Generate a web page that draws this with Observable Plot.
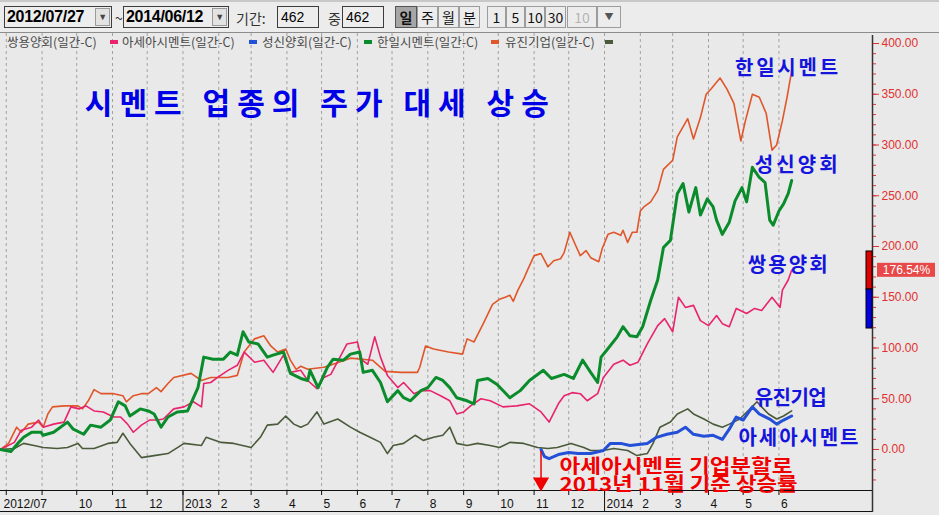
<!DOCTYPE html>
<html>
<head>
<meta charset="utf-8">
<script src="https://cdn.jsdelivr.net/npm/d3@7"></script>
<script src="https://cdn.jsdelivr.net/npm/@observablehq/plot@0.6"></script>
<style>
  body { margin: 0; background: #e6e6e6; font-family: "Liberation Sans", Arial, sans-serif; }
  #wrap { position: relative; width: 939px; height: 515px; overflow: hidden; background: #e6e6e6; }
  #toolbar { position: absolute; left: 0; top: 0; width: 939px; height: 33px; background: #ececec; border-top: 2px solid #c8c8c8; border-bottom: 1px solid #8c8c8c; box-sizing: border-box; }
  .box { position: absolute; top: 4px; height: 22px; border: 1px solid #3c3c3c; background: #ededed; box-sizing: border-box; color: #000; font-size: 14px; line-height: 20px; padding-left: 3px; }
  .date { font-weight: bold; font-size: 16px; letter-spacing: -0.3px; padding-left: 2px; }
  .drop { position: absolute; right: 1px; top: 1px; width: 15px; height: 18px; border: 1px solid #9a9a9a; background: #e2e2e2; box-sizing: border-box; font-size: 9px; line-height: 16px; text-align: center; color: #444; font-weight: normal; }
  .lbl { position: absolute; top: 7px; font-size: 14px; color: #333; font-family: "Noto Sans CJK KR", sans-serif; line-height: 18px; }
  .btn { position: absolute; top: 4px; height: 22px; border: 1px solid #9c9c9c; background: #ececec; box-sizing: border-box; text-align: center; font-size: 14px; line-height: 20px; color: #111; font-family: "Noto Sans CJK KR", "Liberation Sans", sans-serif; }
  .btn.on { background: #a6a6a6; border-color: #555; font-weight: bold; }
  .btn.off { color: #b4b4b4; }
  #legend { position: absolute; left: 0; top: 34px; height: 15px; font-family: "Noto Sans CJK KR", sans-serif; font-size: 12.5px; color: #4a4a4a; line-height: 15px; }
  #legend span { position: absolute; top: 0; white-space: nowrap; }
  #legend i { position: absolute; top: 6px; width: 8px; height: 4px; }
  #chart { position: absolute; left: 0; top: 33px; }
</style>
</head>
<body>
<div id="wrap">
  <div id="chart"></div>
  <div id="toolbar">
    <div class="box date" style="left:4px;width:108px;">2012/07/27<div class="drop">▼</div></div>
    <div class="lbl" style="left:115px;">~</div>
    <div class="box date" style="left:123px;width:106px;">2014/06/12<div class="drop">▼</div></div>
    <div class="lbl" style="left:236px;">기간:</div>
    <div class="box" style="left:277px;width:42px;">462</div>
    <div class="lbl" style="left:328px;">중</div>
    <div class="box" style="left:342px;width:42px;">462</div>
    <div class="btn on" style="left:395px;width:22px;">일</div>
    <div class="btn" style="left:417px;width:21px;">주</div>
    <div class="btn" style="left:438px;width:21px;">월</div>
    <div class="btn" style="left:459px;width:21px;">분</div>
    <div class="btn" style="left:487px;width:19px;">1</div>
    <div class="btn" style="left:506px;width:19px;">5</div>
    <div class="btn" style="left:525px;width:20px;">10</div>
    <div class="btn" style="left:545px;width:21px;">30</div>
    <div class="btn off" style="left:567px;width:30px;">10</div>
    <div class="btn off" style="left:597px;width:24px;font-size:9px;color:#555;">▼</div>
  </div>
  <div id="legend"></div>
</div>
<script>
// 수익률(%) : 2012/07/27 기준, 아세아시멘트는 2013/11 기업분할 이후 기준
const ssangyong = [
  ["2012-07-27",0],["2012-08-08",7],["2012-08-14",19],["2012-08-23",22],["2012-08-29",29],["2012-09-02",22],
  ["2012-09-11",25],["2012-09-20",27],["2012-09-26",42],["2012-10-03",40],["2012-10-09",43],["2012-10-16",38],
  ["2012-10-24",37],["2012-11-02",32],["2012-11-08",32],["2012-11-14",25],["2012-11-19",17],["2012-11-26",24],
  ["2012-12-03",29],["2012-12-10",29],["2012-12-15",30],["2012-12-24",40],["2013-01-02",42],["2013-01-10",47],
  ["2013-01-17",42],["2013-01-19",65],["2013-01-25",66],["2013-01-31",71],["2013-02-09",78],["2013-02-17",83],
  ["2013-02-23",96],["2013-03-04",86],["2013-03-12",88],["2013-03-20",76],["2013-03-29",93],["2013-04-04",76],
  ["2013-04-13",78],["2013-04-19",68],["2013-04-27",60],["2013-05-03",71],["2013-05-09",74],["2013-05-23",104],
  ["2013-06-01",106],["2013-06-05",88],["2013-06-10",84],["2013-06-16",111],["2013-06-21",91],["2013-06-27",73],
  ["2013-07-06",61],["2013-07-11",66],["2013-07-20",55],["2013-07-26",58],["2013-08-03",58],["2013-08-12",53],
  ["2013-08-20",48],["2013-08-26",35],["2013-09-01",37],["2013-09-07",43],["2013-09-16",50],["2013-09-24",48],
  ["2013-10-05",42],["2013-10-17",43],["2013-10-28",45],["2013-11-07",37],["2013-11-14",27],["2013-11-22",45],
  ["2013-11-27",53],["2013-12-04",56],["2013-12-11",55],["2013-12-17",48],["2013-12-26",55],["2013-12-31",71],
  ["2014-01-09",84],["2014-01-17",88],["2014-01-23",83],["2014-01-30",86],["2014-02-07",104],["2014-02-16",122],
  ["2014-02-22",129],["2014-03-01",116],["2014-03-06",150],["2014-03-12",140],["2014-03-19",142],["2014-03-25",127],
  ["2014-04-01",122],["2014-04-08",132],["2014-04-13",124],["2014-04-19",121],["2014-04-25",139],["2014-05-04",134],
  ["2014-05-11",139],["2014-05-17",137],["2014-05-26",150],["2014-06-02",140],["2014-06-04",157],["2014-06-09",167],
  ["2014-06-12",176.54]
];
const asia = [
  ["2013-11-07",0],["2013-11-10",-7],["2013-11-14",-9],["2013-11-22",-5],["2013-12-01",-3],["2013-12-09",-4],
  ["2013-12-20",-4],["2013-12-31",-1],["2014-01-06",6],["2014-01-15",6],["2014-01-23",4],["2014-02-07",6],
  ["2014-02-15",12],["2014-02-24",15],["2014-03-05",17],["2014-03-12",22],["2014-03-19",15],["2014-03-28",13],
  ["2014-04-05",14],["2014-04-13",10],["2014-04-19",20],["2014-04-25",32],["2014-05-01",29],["2014-05-09",42],
  ["2014-05-15",35],["2014-05-24",30],["2014-05-30",25],["2014-06-05",29],["2014-06-12",33]
];
const sungshin = [
  ["2012-07-27",0],["2012-08-05",-2],["2012-08-11",6],["2012-08-16",12],["2012-08-23",17],["2012-08-31",17],
  ["2012-09-02",14],["2012-09-11",17],["2012-09-23",27],["2012-09-28",20],["2012-10-07",15],["2012-10-13",24],
  ["2012-10-22",22],["2012-10-30",29],["2012-11-06",47],["2012-11-12",43],["2012-11-16",33],["2012-11-25",40],
  ["2012-12-02",38],["2012-12-07",35],["2012-12-13",22],["2012-12-19",32],["2012-12-27",37],["2013-01-05",38],
  ["2013-01-14",61],["2013-01-19",91],["2013-01-27",89],["2013-02-05",89],["2013-02-11",96],["2013-02-17",93],
  ["2013-02-22",116],["2013-02-27",106],["2013-03-07",104],["2013-03-15",91],["2013-03-20",93],["2013-03-29",96],
  ["2013-04-04",75],["2013-04-13",70],["2013-04-19",68],["2013-04-21",78],["2013-04-28",61],["2013-05-06",81],
  ["2013-05-11",89],["2013-05-20",88],["2013-05-26",94],["2013-06-03",96],["2013-06-06",76],["2013-06-14",78],
  ["2013-06-21",66],["2013-06-27",47],["2013-07-06",58],["2013-07-11",51],["2013-07-17",48],["2013-07-26",58],
  ["2013-08-01",61],["2013-08-08",71],["2013-08-14",68],["2013-08-20",61],["2013-08-26",51],["2013-09-04",48],
  ["2013-09-10",45],["2013-09-13",68],["2013-09-22",70],["2013-09-30",64],["2013-10-11",51],["2013-10-20",58],
  ["2013-10-28",68],["2013-11-09",78],["2013-11-16",70],["2013-11-27",74],["2013-12-05",70],["2013-12-13",88],
  ["2013-12-20",76],["2013-12-26",66],["2013-12-29",91],["2014-01-03",98],["2014-01-12",111],["2014-01-17",121],
  ["2014-01-23",112],["2014-01-29",111],["2014-02-03",121],["2014-02-10",147],["2014-02-16",167],["2014-02-21",199],
  ["2014-02-27",206],["2014-03-05",252],["2014-03-10",262],["2014-03-15",234],["2014-03-21",258],["2014-03-25",231],
  ["2014-03-31",247],["2014-04-05",239],["2014-04-08",226],["2014-04-13",212],["2014-04-19",224],["2014-04-24",245],
  ["2014-04-30",258],["2014-05-04",244],["2014-05-09",278],["2014-05-15",268],["2014-05-20",263],["2014-05-24",226],
  ["2014-05-27",221],["2014-06-01",235],["2014-06-05",242],["2014-06-09",252],["2014-06-12",265]
];
const hanil = [
  ["2012-07-27",0],["2012-08-03",6],["2012-08-10",22],["2012-08-14",17],["2012-08-20",25],["2012-08-29",27],
  ["2012-09-02",22],["2012-09-06",35],["2012-09-10",42],["2012-09-20",43],["2012-10-02",43],["2012-10-06",40],
  ["2012-10-11",48],["2012-10-16",59],["2012-10-22",55],["2012-11-02",55],["2012-11-10",53],["2012-11-13",47],
  ["2012-11-19",53],["2012-11-26",55],["2012-12-02",55],["2012-12-09",61],["2012-12-13",57],["2012-12-19",65],
  ["2012-12-24",71],["2013-01-08",75],["2013-01-17",68],["2013-01-25",71],["2013-02-09",71],["2013-02-17",73],
  ["2013-02-23",96],["2013-03-04",109],["2013-03-12",112],["2013-03-18",102],["2013-03-24",96],["2013-03-31",99],
  ["2013-04-04",88],["2013-04-09",79],["2013-04-13",82],["2013-04-19",79],["2013-05-03",81],["2013-05-11",84],
  ["2013-05-26",90],["2013-06-14",88],["2013-06-25",77],["2013-07-09",76],["2013-07-23",76],["2013-07-25",81],
  ["2013-07-30",102],["2013-08-06",99],["2013-08-19",96],["2013-08-31",94],["2013-09-04",109],["2013-09-10",106],
  ["2013-09-18",124],["2013-09-26",143],["2013-10-02",148],["2013-10-07",150],["2013-10-11",152],["2013-10-14",146],
  ["2013-10-18",157],["2013-10-23",168],["2013-10-26",176],["2013-11-01",191],["2013-11-07",193],["2013-11-13",180],
  ["2013-11-18",186],["2013-11-24",188],["2013-11-27",194],["2013-12-02",214],["2013-12-07",201],["2013-12-11",191],
  ["2013-12-16",196],["2013-12-20",189],["2013-12-27",185],["2013-12-30",198],["2014-01-04",212],["2014-01-09",214],
  ["2014-01-15",211],["2014-01-17",216],["2014-01-21",204],["2014-01-25",214],["2014-01-29",214],["2014-02-01",235],
  ["2014-02-04",239],["2014-02-10",244],["2014-02-16",255],["2014-02-21",276],["2014-03-01",285],["2014-03-05",308],
  ["2014-03-14",326],["2014-03-19",306],["2014-03-25",327],["2014-03-30",350],["2014-04-03",355],["2014-04-11",366],
  ["2014-04-17",355],["2014-04-23",341],["2014-04-29",304],["2014-05-03",324],["2014-05-09",350],["2014-05-15",347],
  ["2014-05-21",331],["2014-05-26",295],["2014-05-30",300],["2014-06-04",324],["2014-06-08",347],["2014-06-12",373]
];
const eugene = [
  ["2012-07-27",0],["2012-08-08",1],["2012-08-16",6],["2012-08-25",4],["2012-09-02",2],["2012-09-14",1],
  ["2012-09-23",2],["2012-10-02",6],["2012-10-06",1],["2012-10-16",1],["2012-10-28",6],["2012-11-05",7],
  ["2012-11-10",16],["2012-11-16",6],["2012-11-26",-8],["2012-12-07",-6],["2012-12-19",-4],["2013-01-02",6],
  ["2013-01-17",4],["2013-01-21",12],["2013-02-03",7],["2013-02-14",6],["2013-03-01",2],["2013-03-09",12],
  ["2013-03-15",24],["2013-03-24",25],["2013-03-31",33],["2013-04-07",25],["2013-04-13",22],["2013-04-19",25],
  ["2013-04-27",37],["2013-05-03",25],["2013-05-15",30],["2013-05-26",22],["2013-06-03",17],["2013-06-12",12],
  ["2013-06-21",7],["2013-06-27",-4],["2013-07-02",4],["2013-07-11",6],["2013-07-21",14],["2013-07-28",9],
  ["2013-08-06",12],["2013-08-14",14],["2013-08-20",22],["2013-08-26",6],["2013-09-04",4],["2013-09-13",6],
  ["2013-09-24",4],["2013-10-02",2],["2013-10-11",7],["2013-10-23",6],["2013-11-04",2],["2013-11-13",1],
  ["2013-11-21",2],["2013-12-03",6],["2013-12-14",2],["2013-12-20",-1],["2013-12-31",-1],["2014-01-09",1],
  ["2014-01-21",-1],["2014-01-29",-6],["2014-02-07",-4],["2014-02-12",6],["2014-02-18",22],["2014-02-27",27],
  ["2014-03-05",35],["2014-03-14",40],["2014-03-19",35],["2014-03-28",30],["2014-04-05",25],["2014-04-13",22],
  ["2014-04-19",25],["2014-04-28",30],["2014-05-07",40],["2014-05-13",47],["2014-05-17",42],["2014-05-23",35],
  ["2014-05-30",30],["2014-06-05",33],["2014-06-12",38]
];

const names = ["쌍용양회", "아세아시멘트", "성신양회", "한일시멘트", "유진기업"];
const colors = ["#e8246c", "#2450d8", "#0b8c2c", "#e0562a", "#4a5a3a"];

const monthStarts = [
  "2012-08-01","2012-09-01","2012-10-01","2012-11-01","2012-12-01",
  "2013-01-01","2013-02-01","2013-03-01","2013-04-01","2013-05-01","2013-06-01",
  "2013-07-01","2013-08-01","2013-09-01","2013-10-01","2013-11-01","2013-12-01",
  "2014-01-01","2014-02-01","2014-03-01","2014-04-01","2014-05-01","2014-06-01"
];
const monthLabels = ["", "", "10", "11", "12", "2013", "2", "3", "4", "5", "6", "7", "8", "9", "10", "11", "12",
  "2014", "2", "3", "4", "5", "6"];
const yearStarts = ["2013-01-01", "2014-01-01"];
const yMajor = [0, 50, 100, 150, 200, 250, 300, 350, 400];
const yMinor = d3.range(-30, 401, 10);
const barUp = [157.6, 195.1];
const barDown = [119.2, 157.6];

const title = "시멘트 업종의 주가 대세 상승";
const seriesNotes = [
  {text: "한일시멘트", date: "2014-04-24", value: 375, width: 103},
  {text: "성신양회", date: "2014-05-11", value: 280, width: 83},
  {text: "쌍용양회", date: "2014-05-05", value: 181, width: 80},
  {text: "유진기업", date: "2014-05-11", value: 50, width: 72},
  {text: "아세아시멘트", date: "2014-04-27", value: 11, width: 120}
];
const splitLines = ["아세아시멘트 기업분할로", "2013년 11월 기준 상승률"];
const splitWidths = [233, 238];
const splitDate = "2013-11-07";

const D = s => new Date(s);
const xStart = D("2012-07-27"), xEnd = D("2014-08-21");
const yMin = -40.4, yMax = 407.9;
const red = "#e23030";
const lastPink = ssangyong[ssangyong.length - 1][1];

// legend
const legendPos = [[7, 110], [122, 249], [262, 364], [377, 491], [505, 605]];
const legend = d3.select("#legend");
names.forEach((n, i) => {
  legend.append("span").style("left", legendPos[i][0] + "px").text(n + "(일간-C)");
  legend.append("i").style("left", legendPos[i][1] + "px").style("background", colors[i]);
});

const line = (data, i, w) => Plot.line(data, {x: d => D(d[0]), y: d => d[1], stroke: colors[i], strokeWidth: w});
const korean = "'Noto Sans CJK KR', sans-serif";

const chart = Plot.plot({
  width: 939,
  height: 482,
  marginTop: 2,
  marginRight: 67,
  marginBottom: 25,
  marginLeft: 0,
  style: {background: "#e9e9e9", fontFamily: "'Liberation Sans', Arial, sans-serif", fontSize: "12px", overflow: "visible"},
  x: {type: "utc", domain: [xStart, xEnd]},
  y: {domain: [yMin, yMax]},
  marks: [
    Plot.ruleX(monthStarts, {x: D, stroke: "#a2a2a2", strokeDasharray: "3,3", insetTop: -2}),
    line(eugene, 4, 1.6),
    line(hanil, 3, 1.6),
    line(ssangyong, 0, 1.6),
    line(sungshin, 2, 3),
    line(asia, 1, 3),
    // x axis band
    Plot.ruleY([yMin], {stroke: "#111"}),
    Plot.ruleY([yMin], {stroke: "#111", dy: 21}),
    Plot.axisX({ticks: monthStarts.map(D), tickSize: 5, tickFormat: () => "", color: "#111", label: null}),
    Plot.axisX({ticks: yearStarts.map(D), tickSize: 21, tickFormat: () => "", color: "#111", label: null}),
    Plot.text(monthStarts, {x: D, text: (d, i) => monthLabels[i], frameAnchor: "bottom", lineAnchor: "top",
      textAnchor: "start", dx: 2, dy: 9, fill: "#111", fontSize: 12}),
    Plot.text(["2012/07"], {x: () => xStart, text: d => d, frameAnchor: "bottom", lineAnchor: "top",
      textAnchor: "start", dx: 3, dy: 9, fill: "#111", fontSize: 12}),
    // right axis
    Plot.ruleX([xEnd], {stroke: "#333", strokeWidth: 1.5, insetBottom: -22}),
    Plot.axisY({anchor: "right", ticks: yMinor, tickSize: 3, tickFormat: () => "", color: red, label: null}),
    Plot.axisY({anchor: "right", ticks: yMajor, tickSize: 6, tickPadding: 3, tickFormat: d => d.toFixed(2),
      color: red, fontSize: 12, label: null}),
    Plot.rect([barUp], {x1: () => xEnd, x2: () => xEnd, y1: d => d[0], y2: d => d[1], insetLeft: -6,
      fill: "#e00000", stroke: "#000", strokeWidth: 1}),
    Plot.rect([barDown], {x1: () => xEnd, x2: () => xEnd, y1: d => d[0], y2: d => d[1], insetLeft: -6,
      fill: "#0000e0", stroke: "#000", strokeWidth: 1}),
    Plot.rect([lastPink], {x1: () => xEnd, x2: () => xEnd, y1: d => d, y2: d => d,
      insetLeft: 5, insetRight: -63, insetTop: -7, insetBottom: -7, fill: "#e84848"}),
    Plot.text([lastPink], {x: () => xEnd, y: d => d, text: d => d.toFixed(2) + "%", dx: 34, fill: "#fff", fontSize: 12}),
    // annotations
    Plot.text([title], {x: () => D("2012-10-08"), y: () => 340, text: d => d, textAnchor: "start",
      fontSize: 30, fontWeight: "bold", fill: "#0000e6", fontFamily: korean}),
    Plot.text(seriesNotes, {x: d => D(d.date), y: "value", text: "text", textAnchor: "start", fontSize: 20,
      fontWeight: "bold", fill: "#1414dc", fontFamily: korean}),
    Plot.ruleX([splitDate], {x: D, y1: -2, y2: -29, stroke: "#f00000", strokeWidth: 1.5}),
    Plot.dot([splitDate], {x: D, y: () => -32.2, symbol: "triangle", rotate: 180, r: 6, fill: "#f00000", stroke: "none"}),
    Plot.text([splitLines.join("\n")], {x: () => D("2013-11-23"), y: () => -26.4, text: d => d, textAnchor: "start",
      lineAnchor: "middle", lineHeight: 0.95, fontSize: 19, fontWeight: "bold", fill: "#f00000", fontFamily: korean})
  ]
});

// stretch the annotation texts to the widths they have in the original picture
const widths = new Map([[title, 464], ...seriesNotes.map(d => [d.text, d.width])]);
d3.select(chart).selectAll("text").each(function() {
  const w = widths.get(this.textContent);
  if (w) d3.select(this).attr("textLength", w).attr("lengthAdjust", "spacing");
});
d3.select(chart).selectAll("tspan").each(function() {
  const i = splitLines.indexOf(this.textContent);
  if (i >= 0) d3.select(this).attr("textLength", splitWidths[i]).attr("lengthAdjust", "spacingAndGlyphs");
});
d3.select("#chart").append(() => chart);
</script>
</body>
</html>
